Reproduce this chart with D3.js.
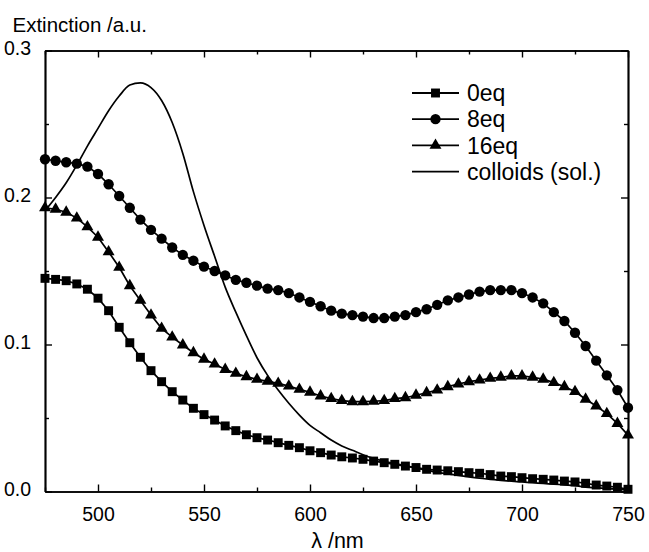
<!DOCTYPE html>
<html>
<head>
<meta charset="utf-8">
<script src="https://cdn.jsdelivr.net/npm/d3@7/dist/d3.min.js"></script>
<style>
  html, body { margin: 0; padding: 0; background: #fff; }
  svg { display: block; }
  text { font-family: "Liberation Sans", Arial, Helvetica, sans-serif; fill: #000; }
</style>
</head>
<body>
<svg id="chart" width="649" height="552"></svg>
<script>
// ---------------- data ----------------
const wavelengths = d3.range(475, 751, 5); // 475..750 nm, step 5

const eq0 = [
  0.145, 0.1443, 0.1434, 0.1412, 0.1376, 0.1315, 0.123, 0.1117, 0.1012, 0.0913,
  0.0822, 0.0747, 0.0679, 0.0622, 0.0566, 0.0523, 0.0486, 0.0446, 0.0414, 0.0386,
  0.0366, 0.035, 0.0332, 0.0314, 0.0298, 0.0277, 0.0264, 0.0248, 0.0236, 0.0228,
  0.0219, 0.0207, 0.0196, 0.0185, 0.0173, 0.0163, 0.0151, 0.0146, 0.0141, 0.0135,
  0.0128, 0.0124, 0.0115, 0.0105, 0.0101, 0.0094, 0.0087, 0.0083, 0.0078, 0.0071,
  0.0065, 0.0056, 0.0044, 0.0037, 0.0029, 0.0015
];

const eq8 = [
  0.226, 0.225, 0.224, 0.223, 0.221, 0.216, 0.209, 0.201, 0.193, 0.185,
  0.178, 0.172, 0.166, 0.161, 0.157, 0.153, 0.150, 0.147, 0.144, 0.142,
  0.140, 0.138, 0.137, 0.135, 0.132, 0.129, 0.126, 0.123, 0.121, 0.120,
  0.119, 0.118, 0.118, 0.119, 0.120, 0.122, 0.124, 0.127, 0.130, 0.132,
  0.134, 0.136, 0.137, 0.137, 0.137, 0.135, 0.132, 0.128, 0.122, 0.116,
  0.108, 0.099, 0.089, 0.079, 0.069, 0.057
];

const eq16 = [
  0.193, 0.192, 0.190, 0.186, 0.180, 0.173, 0.163, 0.1525, 0.140, 0.130,
  0.120, 0.111, 0.105, 0.0997, 0.0944, 0.090, 0.0867, 0.083, 0.0804, 0.0781,
  0.0763, 0.0749, 0.0736, 0.0717, 0.0695, 0.0675, 0.065, 0.0632, 0.0618, 0.0611,
  0.0611, 0.0614, 0.0618, 0.0632, 0.0638, 0.0655, 0.0672, 0.069, 0.0713, 0.0731,
  0.0747, 0.0758, 0.077, 0.0777, 0.0786, 0.0786, 0.0777, 0.0764, 0.0741, 0.0713,
  0.068, 0.0628, 0.0582, 0.053, 0.0463, 0.0384
];

const colloids = [
  0.191, 0.200, 0.210, 0.222, 0.235, 0.247, 0.259, 0.269, 0.2765, 0.278,
  0.2748, 0.266, 0.251, 0.230, 0.204, 0.181, 0.160, 0.139, 0.122, 0.106,
  0.091, 0.079, 0.069, 0.060, 0.052, 0.045, 0.040, 0.035, 0.031, 0.028,
  0.025, 0.0225, 0.0205, 0.019, 0.0175, 0.016, 0.0145, 0.013, 0.012, 0.011,
  0.010, 0.009, 0.0083, 0.0076, 0.007, 0.0065, 0.006, 0.0055, 0.005, 0.0045,
  0.004, 0.003, 0.0025, 0.002, 0.0015, 0.001
];

const xTicks = [500, 550, 600, 650, 700, 750];
const xMinorTicks = [475, 525, 575, 625, 675, 725];
const yTicks = [0.0, 0.1, 0.2, 0.3];
const yMinorTicks = [0.05, 0.15, 0.25];

const seriesNames = ["0eq", "8eq", "16eq", "colloids (sol.)"];
const seriesMarkers = ["square", "circle", "triangle", "none"];
const seriesValues = [eq0, eq8, eq16, colloids];

// ---------------- layout ----------------
const svg = d3.select("#chart");
const mLeft = 45, mRight = 628, mTop = 50.5, mBottom = 491.5;

const x = d3.scaleLinear().domain([475, 750]).range([mLeft, mRight]);
const y = d3.scaleLinear().domain([0, 0.3]).range([mBottom, mTop]);

const MAJ = 7, MIN = 4;

function styleAxis(g) {
  g.selectAll("path.domain").attr("stroke", "#000").attr("stroke-width", 1.7);
  g.selectAll(".tick line").attr("stroke", "#000").attr("stroke-width", 1.4);
  g.selectAll(".tick text")
    .style("font-family", '"Liberation Sans", Arial, sans-serif')
    .style("font-size", "19.5px")
    .attr("fill", "#000");
}

// bottom axis
svg.append("g").attr("transform", `translate(0,${mBottom})`)
  .call(d3.axisBottom(x).tickValues(xTicks).tickSizeInner(-MAJ).tickSizeOuter(0).tickPadding(16).tickFormat(d3.format("d")))
  .call(styleAxis);
svg.append("g").attr("transform", `translate(0,${mBottom})`)
  .call(d3.axisBottom(x).tickValues(xMinorTicks).tickSizeInner(-MIN).tickSizeOuter(0).tickFormat(""))
  .call(styleAxis);
// top axis
svg.append("g").attr("transform", `translate(0,${mTop})`)
  .call(d3.axisTop(x).tickValues(xTicks).tickSizeInner(-MAJ).tickSizeOuter(0).tickFormat(""))
  .call(styleAxis);
svg.append("g").attr("transform", `translate(0,${mTop})`)
  .call(d3.axisTop(x).tickValues(xMinorTicks).tickSizeInner(-MIN).tickSizeOuter(0).tickFormat(""))
  .call(styleAxis);
// left axis
svg.append("g").attr("transform", `translate(${mLeft},0)`)
  .call(d3.axisLeft(y).tickValues(yTicks).tickSizeInner(-MAJ).tickSizeOuter(0).tickPadding(7 + MAJ).tickFormat(d3.format(".1f")))
  .call(styleAxis)
  .call(g => g.selectAll(".tick text").attr("dy", "0.22em"));
svg.append("g").attr("transform", `translate(${mLeft},0)`)
  .call(d3.axisLeft(y).tickValues(yMinorTicks).tickSizeInner(-MIN).tickSizeOuter(0).tickFormat(""))
  .call(styleAxis);
// right axis
svg.append("g").attr("transform", `translate(${mRight},0)`)
  .call(d3.axisRight(y).tickValues(yTicks).tickSizeInner(-MAJ).tickSizeOuter(0).tickFormat(""))
  .call(styleAxis);
svg.append("g").attr("transform", `translate(${mRight},0)`)
  .call(d3.axisRight(y).tickValues(yMinorTicks).tickSizeInner(-MIN).tickSizeOuter(0).tickFormat(""))
  .call(styleAxis);

// axis titles
svg.append("text").attr("x", 12.5).attr("y", 31.5)
  .style("font-size", "20.5px").text("Extinction /a.u.");
svg.append("text").attr("x", (mLeft + mRight) / 2 + 1).attr("y", 548)
  .attr("text-anchor", "middle").style("font-size", "21.5px").text("λ /nm");

// ---------------- series ----------------
const symbolFor = {
  square: d3.symbol().type(d3.symbolSquare).size(80),
  circle: d3.symbol().type(d3.symbolCircle).size(84),
  triangle: d3.symbol().type(d3.symbolTriangle).size(62)
};

const line = d3.line().x(d => x(d[0])).y(d => y(d[1]));
const smoothLine = d3.line().curve(d3.curveMonotoneX).x(d => x(d[0])).y(d => y(d[1]));

const plot = svg.append("g");

seriesValues.forEach((vals, i) => {
  const pts = wavelengths.map((w, k) => [w, vals[k]]);
  const marker = seriesMarkers[i];
  plot.append("path")
    .attr("d", marker === "none" ? smoothLine(pts) : line(pts))
    .attr("fill", "none").attr("stroke", "#000").attr("stroke-width", 1.7);
  if (marker !== "none") {
    plot.append("g").selectAll("path").data(pts).join("path")
      .attr("transform", d => `translate(${x(d[0])},${y(d[1])})`)
      .attr("d", symbolFor[marker]())
      .attr("fill", "#000");
  }
});

// ---------------- legend ----------------
const legend = svg.append("g");
const lx0 = 412, lx1 = 459, ltx = 467, ly0 = 93, ldy = 26.2;
seriesNames.forEach((name, i) => {
  const yy = ly0 + i * ldy;
  legend.append("line").attr("x1", lx0).attr("x2", lx1).attr("y1", yy).attr("y2", yy)
    .attr("stroke", "#000").attr("stroke-width", 1.8);
  if (seriesMarkers[i] !== "none") {
    legend.append("path")
      .attr("transform", `translate(${(lx0 + lx1) / 2},${yy})`)
      .attr("d", symbolFor[seriesMarkers[i]]())
      .attr("fill", "#000");
  }
  legend.append("text").attr("x", ltx).attr("y", yy).attr("dy", "0.36em")
    .style("font-size", "23px").text(name);
});
</script>
</body>
</html>
